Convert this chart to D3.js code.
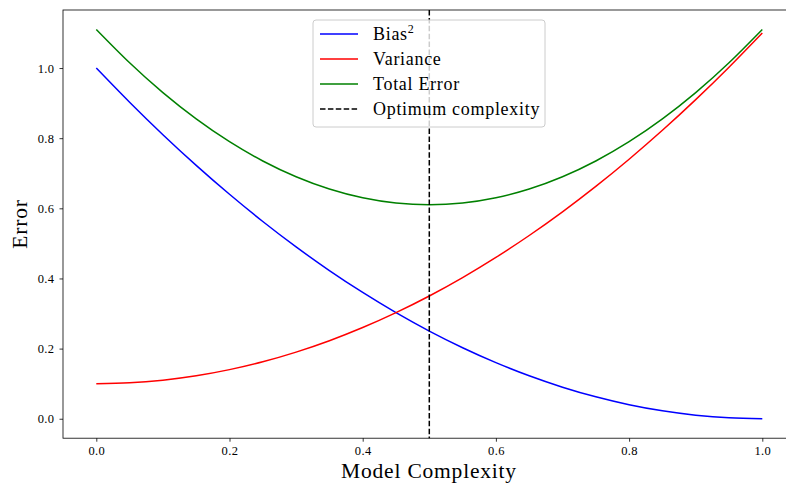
<!DOCTYPE html>
<html>
<head>
<meta charset="utf-8">
<script src="https://cdn.jsdelivr.net/npm/d3@7"></script>
<style>
  html, body { margin: 0; padding: 0; background: #fff; overflow: hidden; }
  svg { display: block; }
  text { font-family: "Liberation Serif", "DejaVu Serif", serif; fill: #000; }
</style>
</head>
<body>
<svg id="chart" width="786" height="484"></svg>
<script>
// Model complexity grid
const complexity = [0.00, 0.05, 0.10, 0.15, 0.20, 0.25, 0.30, 0.35, 0.40, 0.45, 0.50,
                    0.55, 0.60, 0.65, 0.70, 0.75, 0.80, 0.85, 0.90, 0.95, 1.00];
// Squared bias
const bias2 = [1.0000, 0.9025, 0.8100, 0.7225, 0.6400, 0.5625, 0.4900, 0.4225, 0.3600, 0.3025, 0.2500,
               0.2025, 0.1600, 0.1225, 0.0900, 0.0625, 0.0400, 0.0225, 0.0100, 0.0025, 0.0000];
// Variance
const variance = [0.1000, 0.1025, 0.1100, 0.1225, 0.1400, 0.1625, 0.1900, 0.2225, 0.2600, 0.3025, 0.3500,
                  0.4025, 0.4600, 0.5225, 0.5900, 0.6625, 0.7400, 0.8225, 0.9100, 1.0025, 1.1000];
// Total error
const totalError = [1.1100, 1.0150, 0.9300, 0.8550, 0.7900, 0.7350, 0.6900, 0.6550, 0.6300, 0.6150, 0.6100,
                    0.6150, 0.6300, 0.6550, 0.6900, 0.7350, 0.7900, 0.8550, 0.9300, 1.0150, 1.1100];
const optimum = 0.5;
const xTicks = [0.0, 0.2, 0.4, 0.6, 0.8, 1.0];
const yTicks = [0.0, 0.2, 0.4, 0.6, 0.8, 1.0];

const svg = d3.select("#chart");
const plotLeft = 63, plotRight = 795.6, plotTop = 10, plotBottom = 438.2;
const serif = "Liberation Serif, DejaVu Serif, serif";

const x = d3.scaleLinear().domain([-0.05, 1.05]).range([plotLeft, plotRight]);
const y = d3.scaleLinear().domain([-0.0555, 1.1655]).range([plotBottom, plotTop]);

const seriesList = [
  { name: "bias", values: bias2, color: "#0000ff" },
  { name: "variance", values: variance, color: "#ff0000" },
  { name: "total", values: totalError, color: "#008000" }
];

const line = d3.line()
  .x(d => x(d[0]))
  .y(d => y(d[1]))
  .curve(d3.curveNatural);

const plot = svg.append("g");
seriesList.forEach(s => {
  plot.append("path")
    .datum(complexity.map((c, i) => [c, s.values[i]]))
    .attr("fill", "none")
    .attr("stroke", s.color)
    .attr("stroke-width", 1.5)
    .attr("d", line);
});

// Optimum complexity marker
plot.append("line")
  .attr("x1", x(optimum)).attr("x2", x(optimum))
  .attr("y1", plotTop).attr("y2", plotBottom)
  .attr("stroke", "#000")
  .attr("stroke-width", 1.5)
  .attr("stroke-dasharray", "5.5,2.4");

// Axes
const xAxis = svg.append("g")
  .attr("transform", `translate(0,${plotBottom})`)
  .call(d3.axisBottom(x).tickValues(xTicks).tickFormat(d3.format(".1f")).tickSizeInner(3.5).tickSizeOuter(0).tickPadding(4));
const yAxis = svg.append("g")
  .attr("transform", `translate(${plotLeft},0)`)
  .call(d3.axisLeft(y).tickValues(yTicks).tickFormat(d3.format(".1f")).tickSizeInner(3.5).tickSizeOuter(0).tickPadding(5));

[xAxis, yAxis].forEach(a => {
  a.attr("font-family", serif);
  a.select(".domain").remove();
  a.selectAll(".tick line").attr("stroke", "#000").attr("stroke-width", 0.8);
  a.selectAll(".tick text")
    .attr("font-family", serif)
    .attr("font-size", 12.5)
    .attr("letter-spacing", 0.4)
    .attr("fill", "#222");
});

// Frame
svg.append("rect")
  .attr("x", plotLeft).attr("y", plotTop)
  .attr("width", plotRight - plotLeft).attr("height", plotBottom - plotTop)
  .attr("fill", "none")
  .attr("stroke", "#000")
  .attr("stroke-width", 0.8);

// Axis titles
svg.append("text")
  .attr("x", 429).attr("y", 478)
  .attr("text-anchor", "middle")
  .attr("font-family", serif)
  .attr("font-size", 21.5)
  .attr("letter-spacing", 0.8)
  .text("Model Complexity");
svg.append("text")
  .attr("transform", `translate(27,224) rotate(-90)`)
  .attr("text-anchor", "middle")
  .attr("font-family", serif)
  .attr("font-size", 21.5)
  .attr("letter-spacing", 0.8)
  .text("Error");

// Legend
const legend = svg.append("g");
legend.append("rect")
  .attr("x", 313).attr("y", 20).attr("width", 232).attr("height", 107)
  .attr("rx", 3).attr("ry", 3)
  .attr("fill", "#fff").attr("fill-opacity", 0.8)
  .attr("stroke", "#cccccc").attr("stroke-width", 1);

const legendItems = [
  { label: "Bias", sup: "2", color: "#0000ff", dash: null },
  { label: "Variance", color: "#ff0000", dash: null },
  { label: "Total Error", color: "#008000", dash: null },
  { label: "Optimum complexity", color: "#000", dash: "5.5,2.4" }
];
legendItems.forEach((d, i) => {
  const yy = 34 + i * 25;
  legend.append("line")
    .attr("x1", 320).attr("x2", 358)
    .attr("y1", yy).attr("y2", yy)
    .attr("stroke", d.color).attr("stroke-width", 1.5)
    .attr("stroke-dasharray", d.dash);
  const t = legend.append("text")
    .attr("x", 373).attr("y", yy + 6)
    .attr("font-family", serif)
    .attr("font-size", 18)
    .attr("letter-spacing", 0.7)
    .text(d.label);
  if (d.sup) {
    t.append("tspan").attr("font-size", 12).attr("dy", -7).text(d.sup);
  }
});
</script>
</body>
</html>
